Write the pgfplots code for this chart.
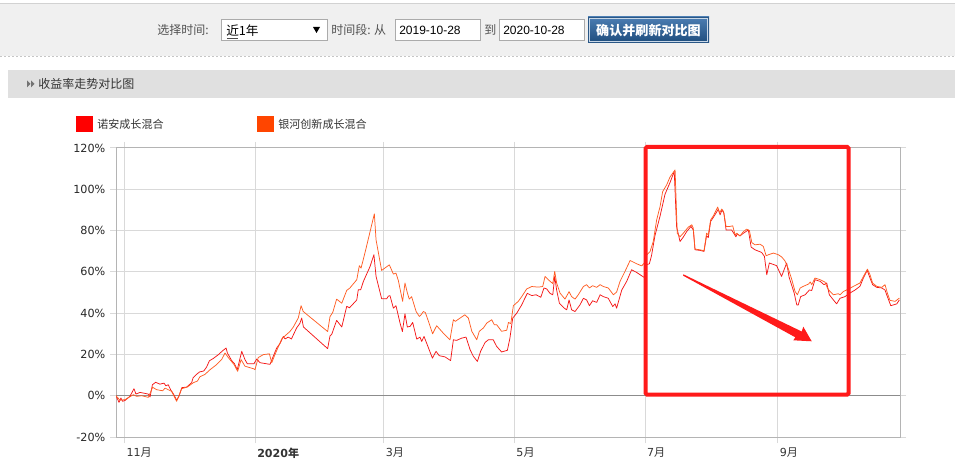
\documentclass[border=0pt]{standalone}
\usepackage{fontspec}
\usepackage{pgfplots}
\pgfplotsset{compat=1.18}
\setmainfont{DejaVu Sans}
\newfontfamily\cjk{Noto Sans CJK SC}
\newfontfamily\arialfont{Liberation Sans}
\definecolor{seriesA}{HTML}{FF0000}
\definecolor{seriesB}{HTML}{FF4500}
\definecolor{lineA}{HTML}{F51616}
\definecolor{lineB}{HTML}{FF5C22}
\definecolor{panelbg}{HTML}{F0F0F0}
\definecolor{headbg}{HTML}{E0E0E0}
\definecolor{gridc}{HTML}{D9D9D9}
\definecolor{framec}{HTML}{B4B4B4}
\definecolor{zeroc}{HTML}{8C8C8C}
\definecolor{txt}{HTML}{333333}
\definecolor{btntop}{HTML}{4C7EB3}
\definecolor{btnbot}{HTML}{1E4C7C}
\definecolor{btnedge}{HTML}{2A5786}
\definecolor{boxred}{HTML}{FF1A1A}
\definecolor{inputedge}{HTML}{ABABAB}

\begin{document}
\begin{tikzpicture}
\useasboundingbox (0,0) rectangle (716.25pt,-354.75pt);
\fill[white] (0,0) rectangle (716.25pt,-354.75pt);

% page furniture, in pixel units (y grows downwards)
\begin{scope}[x=0.75pt,y=-0.75pt]
  % toolbar
  \fill[panelbg] (0,3) rectangle (955,56);
  \draw[gray!35, line width=0.75pt] (0,3.5) -- (955,3.5);
  \draw[gray!45, line width=0.75pt, dash pattern=on 1.5pt off 1.5pt] (0,56.5) -- (955,56.5);
  \node[anchor=west, inner sep=0, text=txt!85, font=\cjk\fontsize{9}{10}\selectfont] at (157,30) {选择时间:};
  \draw[inputedge, fill=white, line width=0.75pt] (221.5,19.5) rectangle (327.5,40.5);
  \node[anchor=west, inner sep=0, text=black, font=\cjk\fontsize{9.5}{10}\selectfont] at (226,30.5) {近1年};
  \draw[black!70, line width=0.6pt] (227,38) -- (238,38);
  \fill[black] (313,27) -- (320,27) -- (316.5,33) -- cycle;
  \node[anchor=west, inner sep=0, text=txt!85, font=\cjk\fontsize{9}{10}\selectfont] at (331,30) {时间段: 从};
  \draw[inputedge, fill=white, line width=0.75pt] (395.5,19.5) rectangle (480.5,40.5);
  \node[anchor=west, inner sep=0, text=black, font=\arialfont\fontsize{9}{10}\selectfont] at (399,30.5) {2019-10-28};
  \node[anchor=west, inner sep=0, text=txt!85, font=\cjk\fontsize{9}{10}\selectfont] at (484,30) {到};
  \draw[inputedge, fill=white, line width=0.75pt] (499.5,19.5) rectangle (584.5,40.5);
  \node[anchor=west, inner sep=0, text=black, font=\arialfont\fontsize{9}{10}\selectfont] at (503,30.5) {2020-10-28};
  \shade[top color=btntop, bottom color=btnbot] (588,17) rectangle (709,43);
  \draw[btnedge, line width=0.75pt] (588.5,17.5) rectangle (708.5,42.5);
  \draw[white!70!btntop, line width=0.5pt] (589.5,18.5) rectangle (707.5,41.5);
  \node[text=white, inner sep=0, font=\cjk\bfseries\fontsize{9.8}{10}\selectfont] at (648.5,30.5) {确认并刷新对比图};

  % section header
  \fill[headbg] (8,70) rectangle (955,98);
  \fill[black!55] (27,80.5) -- (30.5,84) -- (27,87.5) -- cycle;
  \fill[black!55] (31,80.5) -- (34.5,84) -- (31,87.5) -- cycle;
  \node[anchor=west, inner sep=0, text=txt, font=\cjk\fontsize{9}{10}\selectfont] at (38,84) {收益率走势对比图};

  % legend
  \fill[seriesA] (76,116) rectangle (92.5,132.5);
  \node[anchor=west, inner sep=0, text=txt, font=\cjk\fontsize{8.3}{9}\selectfont] at (97,124) {诺安成长混合};
  \fill[seriesB] (257,116) rectangle (273.5,132.5);
  \node[anchor=west, inner sep=0, text=txt, font=\cjk\fontsize{8.3}{9}\selectfont] at (278,124) {银河创新成长混合};
\end{scope}

% return curves; x = calendar days after 2019-10-28
\begin{axis}[
  at={(87pt,-327.75pt)}, anchor=south west,
  scale only axis, width=588pt, height=216.75pt,
  xmin=0, xmax=366, ymin=-20, ymax=120,
  xtick={4,65,125,186,247,309},
  xticklabels={11{\cjk 月}, {\bfseries 2020{\cjk\bfseries 年}}, 3{\cjk 月}, 5{\cjk 月}, 7{\cjk 月}, 9{\cjk 月}},
  ytick={-20,0,20,40,60,80,100,120},
  yticklabels={-20\%,0\%,20\%,40\%,60\%,80\%,100\%,120\%},
  grid=major,
  major grid style={gridc, line width=0.75pt},
  tick align=outside, major tick length=4.5pt,
  tick style={gridc, line width=0.75pt},
  axis line style={framec, line width=0.75pt},
  xticklabel style={anchor=north west, xshift=-2pt, text=txt, font=\fontsize{8.3}{9}\selectfont},
  yticklabel style={text=black!85, font=\fontsize{8.4}{9}\selectfont},
  clip=true,
]
\draw[zeroc, line width=0.75pt] (axis cs:0,0) -- (axis cs:366,0);

% 诺安成长混合
\addplot[lineA, line width=0.55pt, line join=round] coordinates {
(0,0) (1.4,-3.2) (2.3,-1.1) (3.1,-2.7) (4.2,-2.3) (6.5,-0.3) (8.4,3.4) (9.3,0.8) (11.2,1.6) (15.1,0.8) (15.9,-0.6) (17.0,5.3) (18.5,6.5) (20.5,5.6) (22.4,6.1) (23.3,4.8) (24.4,5.3) (25.5,2.9) (27.0,0.5) (28.3,-2.1) (29.4,-0.3) (30.7,3.9) (33.0,4.2) (35.3,6.3) (36.0,8.7) (37.3,10.1) (39.0,11.5) (41.0,12.0) (42.3,13.9) (43.6,16.9) (45.5,18.1) (47.8,19.9) (49.8,21.8) (51.4,23.1) (52.0,20.7) (54.0,17.0) (55.3,15.5) (56.6,12.6) (58.7,21.5) (60.2,17.5) (61.3,15.5) (64.4,15.5) (65.7,17.8) (67.2,16.0) (71.9,15.2) (72.6,17.0) (75.0,23.1) (76.6,25.3) (78.1,28.7) (78.9,27.5) (80.4,28.4) (81.9,27.5) (84.3,32.8) (85.8,35.0) (86.7,37.6) (87.5,33.3) (98.8,22.8) (99.9,29.0) (100.7,29.7) (103.0,36.5) (105.4,33.3) (107.7,43.3) (109.0,42.6) (110.8,44.6) (112.4,46.4) (113.1,51.3) (114.2,51.3) (115.5,55.4) (118.6,62.6) (120.4,68.3) (121.4,57.8) (124.0,47.0) (126.4,47.0) (127.1,48.2) (127.9,48.5) (129.5,42.4) (130.7,43.6) (132.6,35.2) (133.7,31.1) (134.9,39.7) (136.0,33.3) (137.3,33.6) (138.5,35.5) (140.4,27.4) (141.9,28.4) (142.7,26.3) (143.8,28.7) (145.0,25.5) (147.7,18.2) (149.4,21.5) (150.9,19.4) (153.6,18.8) (156.2,17.0) (157.5,27.1) (159.0,26.8) (161.4,27.9) (163.4,28.4) (165.3,22.3) (166.8,19.1) (168.7,16.6) (170.2,21.5) (172.3,25.8) (173.8,27.1) (176.1,27.1) (177.7,23.9) (180.0,21.2) (182.7,22.0) (183.9,27.9) (185.2,37.6) (187.1,40.0) (189.4,44.0) (190.5,46.4) (192.0,49.6) (194.1,48.5) (196.1,48.9) (198.3,47.7) (199.8,52.2) (201.1,51.7) (202.6,49.6) (203.9,48.9) (204.8,57.8) (205.7,51.2) (207.0,44.8) (209.3,42.4) (210.4,41.6) (211.5,46.4) (212.7,41.6) (214.3,40.8) (216.6,44.0) (218.2,47.2) (219.7,46.4) (221.0,43.6) (222.5,46.0) (224.4,45.2) (226.0,48.9) (227.5,48.0) (229.8,47.2) (231.9,43.2) (233.0,44.5) (233.7,42.4) (236.1,51.2) (238.4,55.4) (240.7,61.0) (243.1,59.7) (245.4,58.1) (246.6,57.3) (247.7,63.5) (249.0,63.9) (250.0,67.9) (251.6,77.5) (254.0,87.1) (256.3,97.6) (258.6,103.2) (260.6,108.6) (261.7,82.0) (263.3,74.7) (264.8,76.8) (266.4,79.5) (268.4,82.0) (269.5,80.3) (270.3,70.7) (272.6,70.4) (274.5,69.9) (275.7,77.5) (276.5,76.6) (277.6,84.4) (279.6,87.6) (281.2,90.4) (282.0,87.6) (282.9,90.0) (283.8,88.4) (284.8,80.3) (287.4,80.3) (288.2,79.0) (289.4,77.0) (290.0,78.4) (291.3,77.4) (292.9,78.7) (295.2,80.3) (296.5,72.0) (298.3,70.7) (301.4,69.4) (302.7,67.5) (303.8,58.6) (305.0,64.3) (308.4,63.0) (310.7,57.8) (313.1,64.3) (314.2,57.5) (316.6,49.7) (317.8,44.0) (318.5,44.0) (319.6,48.0) (321.7,48.9) (323.7,51.2) (324.8,51.0) (326.3,56.2) (328.7,55.4) (330.5,53.8) (331.8,54.6) (333.0,48.9) (334.9,46.4) (336.4,44.5) (338.0,47.2) (340.3,48.0) (342.6,49.7) (345.0,51.2) (347.3,53.0) (348.9,57.0) (350.7,60.7) (352.0,57.0) (353.2,53.8) (355.1,52.5) (357.5,52.2) (359.0,51.2) (360.1,48.0) (361.7,43.6) (364.5,44.5) (365.7,46.4)
};

% 银河创新成长混合
\addplot[lineB, line width=0.55pt, line join=round] coordinates {
(0,0) (1.9,-2.2) (4.2,-1.9) (8.1,0.5) (9.6,-0.3) (12.0,0.0) (15.1,-0.8) (17.1,4.1) (19.0,2.9) (21.8,2.4) (22.9,3.7) (24.4,2.9) (26.0,2.1) (28.3,-2.7) (30.7,3.4) (33.3,4.2) (36.1,6.3) (38.0,7.1) (39.2,9.2) (41.5,10.3) (43.9,12.6) (47.0,15.1) (49.3,17.5) (50.9,20.7) (52.4,18.5) (55.1,15.1) (56.8,11.8) (58.4,17.5) (60.2,14.3) (64.4,13.0) (64.9,12.6) (66.4,18.5) (68.8,19.9) (71.6,20.3) (72.7,16.0) (74.2,19.9) (77.4,27.6) (78.9,29.0) (81.2,31.1) (82.8,33.3) (85.1,37.7) (86.4,43.6) (87.4,40.8) (98.8,31.1) (99.9,38.3) (101.2,40.4) (103.0,46.8) (105.4,44.8) (107.7,51.0) (109.2,52.2) (112.4,56.2) (113.6,63.0) (114.4,61.8) (116.2,69.1) (120.6,88.1) (121.4,75.5) (124.0,60.7) (127.6,63.4) (129.5,58.9) (130.7,59.4) (131.8,55.8) (133.8,45.7) (134.9,54.6) (136.0,49.9) (136.9,46.8) (138.0,48.0) (140.1,40.8) (141.6,38.4) (142.4,39.2) (143.5,40.8) (144.4,40.3) (145.8,36.2) (147.8,30.0) (149.7,33.9) (152.8,30.3) (155.9,27.1) (157.5,36.8) (158.4,36.0) (160.6,37.6) (162.9,39.2) (164.5,37.6) (166.1,31.2) (168.4,27.1) (169.6,31.2) (171.5,32.8) (173.1,35.2) (175.4,36.8) (176.6,34.4) (177.7,34.4) (180.0,31.2) (182.4,31.7) (183.2,35.5) (184.3,34.9) (185.5,43.6) (187.8,45.7) (189.4,48.0) (191.7,51.7) (194.1,52.9) (197.2,52.6) (199.2,52.9) (200.3,57.8) (201.8,56.2) (203.9,54.3) (204.8,60.2) (205.7,54.6) (207.3,49.7) (209.6,46.8) (211.5,50.4) (212.7,48.0) (214.3,46.8) (215.8,48.9) (218.2,52.9) (219.7,53.8) (221.0,52.2) (222.5,53.3) (224.4,52.5) (226.0,53.8) (227.5,52.9) (229.8,52.2) (232.2,48.9) (233.7,50.2) (235.3,55.4) (237.6,60.2) (240.0,65.5) (243.1,63.9) (245.4,62.9) (246.6,64.2) (247.7,68.2) (249.3,69.8) (250.8,74.7) (252.4,85.2) (254.0,91.7) (255.2,98.9) (257.1,102.2) (258.6,105.9) (261.0,109.4) (262.0,78.7) (263.3,77.0) (264.8,78.7) (267.2,81.7) (268.8,82.8) (269.5,81.2) (270.3,71.0) (272.6,70.7) (274.5,70.2) (275.7,78.7) (276.5,77.9) (277.6,85.2) (278.9,87.2) (280.9,91.4) (281.7,88.5) (282.8,90.4) (283.6,89.3) (284.8,82.0) (286.6,82.0) (287.9,82.3) (289.0,77.9) (289.8,78.7) (291.3,77.4) (292.9,79.5) (294.4,80.7) (295.7,80.0) (296.8,74.2) (298.3,73.1) (300.7,73.4) (302.2,72.3) (303.5,67.8) (304.6,68.3) (306.9,69.1) (309.2,68.3) (310.8,67.2) (312.3,65.3) (313.9,61.4) (315.5,56.2) (317.0,50.5) (318.1,48.9) (319.4,52.2) (320.9,53.0) (323.3,54.1) (324.1,55.1) (324.8,53.8) (326.3,57.0) (328.7,56.2) (331.0,55.0) (332.1,52.2) (333.3,50.5) (334.9,48.9) (337.2,49.4) (338.0,48.9) (339.6,50.5) (342.0,51.7) (344.3,53.0) (347.3,54.6) (348.9,57.8) (350.8,61.3) (352.0,58.6) (353.2,54.6) (355.1,53.0) (357.5,52.5) (359.0,53.8) (360.1,49.7) (361.3,46.2) (363.7,45.7) (365.7,47.3)
};
\end{axis}

% highlight box and trend arrow over the July-October stretch
\begin{scope}[x=0.75pt,y=-0.75pt]
  \draw[boxred, line width=3pt, rounded corners=1pt] (645.5,147) rectangle (848.5,394.5);
  \fill[boxred] (683.3,274.3) -- (801.7,331.5) -- (803.3,326.7) -- (811.7,341.3) -- (793.3,340.3) -- (795.3,337.3) -- (683,275.6) -- cycle;
\end{scope}
\end{tikzpicture}
\end{document}
